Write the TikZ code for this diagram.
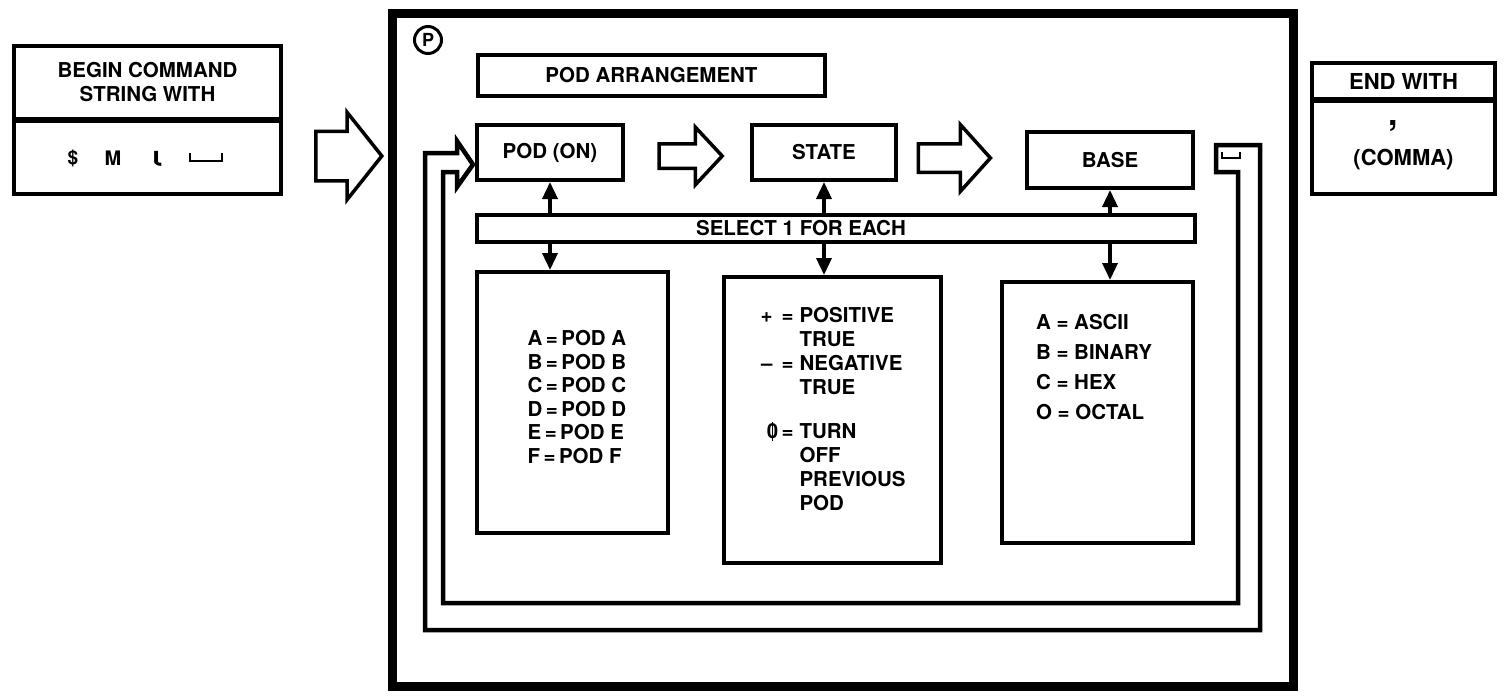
\documentclass[tikz,border=0pt]{standalone}
\usepackage{fontspec}
\setmainfont{TeX Gyre Heros}
\usetikzlibrary{arrows.meta,calc,positioning,shapes.arrows}

% slashed zero as printed in the state list
\newcommand{\zeroslash}{\ooalign{0\cr\hidewidth\rule[-0.12em]{0.09em}{0.95em}\hidewidth\cr}}

\begin{document}
\begin{tikzpicture}[x=1pt,y=-1pt,
    box/.style={draw,line width=4pt,inner sep=0pt,align=center,
      font=\fontsize{20.5}{24}\selectfont\bfseries},
    fatarrow/.style={single arrow,draw,line width=3.5pt,inner xsep=0pt,
      shape border rotate=0},
    pick/.style={line width=3.5pt,-{Triangle[width=15pt,length=17pt]}},
    loopline/.style={line width=4.5pt,line join=miter},
    spacemark/.style={line width=2.5pt}]
  \useasboundingbox (0,0) rectangle (1505,699);

  % left: how the string starts
  \node[box,minimum width=267,minimum height=73] (begintop) at (147.5,82.5)
    {BEGIN COMMAND\\STRING WITH};
  \node[box,minimum width=267,minimum height=73] (beginsym) at (147.5,157.5) {};
  \node[font=\fontsize{19}{20}\selectfont\bfseries] (dollar) at (73,158) {\$};
  \node[font=\fontsize{20}{20}\selectfont\bfseries] (emm) at (113,158) {M};
  \node[font=\fontsize{28}{28}\selectfont\bfseries] (iota) at (157,159) {ι};
  \draw[spacemark] (190,153) -- (190,161) -- (222,161) -- (222,153);

  \node[fatarrow,inner ysep=23,minimum height=66,minimum width=84,
    single arrow head extend=19,single arrow tip angle=103] (inarrow) at (339,156) {};

  % the P frame
  \node[draw,line width=9pt,minimum width=901,minimum height=673] (frame)
    at (842.5,349.5) {};
  \node[draw,circle,line width=3pt,inner sep=0pt,minimum size=27,
    font=\fontsize{18}{18}\selectfont\bfseries] (pmark) at (428,40) {P};

  \node[box,minimum width=347,minimum height=41] (podarr) at (651.5,75.5)
    {POD ARRANGEMENT};
  \node[box,minimum width=146,minimum height=55] (podon) at (550,152.5) {POD (ON)};
  \node[box,minimum width=144,minimum height=55] (state) at (824,152.5) {STATE};
  \node[box,minimum width=166,minimum height=56] (base) at (1110,160) {BASE};

  \node[fatarrow,inner ysep=10.5,minimum height=63,minimum width=54,
    single arrow head extend=16.5,single arrow tip angle=94] (arrowone) at (685,156) {};
  \node[fatarrow,inner ysep=12.5,minimum height=72,minimum width=63,
    single arrow head extend=19,single arrow tip angle=96] (arrowtwo) at (948,158) {};

  \node[box,minimum width=718,minimum height=27] (select) at (836,228) {};
  \node[font=\fontsize{20.5}{24}\selectfont\bfseries] (selecttext) at (801,228)
    {SELECT 1 FOR EACH};

  \node[box,minimum width=191,minimum height=261] (podlist) at (572.5,402.5) {};
  \node[align=left,font=\fontsize{20.5}{23.5}\selectfont\bfseries] (podtext)
    at (577,397) {A\,=\,POD A\\B\,=\,POD B\\C\,=\,POD C\\D\,=\,POD D\\E\,=\,POD E\\F\,=\,POD F};

  \node[box,minimum width=217,minimum height=286] (statelist) at (832.5,420) {};
  \node[font=\fontsize{20.5}{24}\selectfont\bfseries,inner sep=0pt] (statetext)
    at (833,412) {\begin{tabular}{@{}r@{\hspace{6pt}}l@{}}
      + \,= & POSITIVE\\
            & TRUE\\
      -- \,= & NEGATIVE\\
            & TRUE\\[20pt]
      \zeroslash\,= & TURN\\
            & OFF\\
            & PREVIOUS\\
            & POD
    \end{tabular}};

  \node[box,minimum width=191,minimum height=261] (baselist) at (1097.5,412.5) {};
  \node[align=left,font=\fontsize{20.5}{30}\selectfont\bfseries] (basetext)
    at (1094,367) {A = ASCII\\B = BINARY\\C = HEX\\O = OCTAL};

  % select bar to each box
  \draw[pick] (select.north -| podon) -- (podon.south);
  \draw[pick] (select.south -| podon) -- (podlist.north -| podon);
  \draw[pick] (select.north -| state) -- (state.south);
  \draw[pick] (select.south -| state) -- (statelist.north -| state);
  \draw[pick] (select.north -| base) -- (base.south);
  \draw[pick] (select.south -| base) -- (baselist.north -| base);

  % return loop back into POD (ON)
  \coordinate (looptip) at ($(podon.west)+(-2,12)$);
  \draw[loopline] (1216,172) -- (1216,145) -- (1260,145) -- (1260,630)
    -- (425,630) -- (425,153) -- (457,153) -- (457,141) -- (looptip)
    -- (457,187) -- (457,172) -- (443,172) -- (443,603) -- (1238,603)
    -- (1238,172) -- cycle;
  \draw[spacemark] (1222,152) -- (1222,158) -- (1240,158) -- (1240,152);

  % right: how the string ends
  \node[box,minimum width=183,minimum height=36] (endtop) at (1403.5,81)
    {\fontsize{22}{24}\selectfont END WITH};
  \node[box,minimum width=183,minimum height=93] (endbottom) at (1403.5,147.5) {};
  \node[font=\fontsize{22}{24}\selectfont\bfseries] (commatext) at (1403.5,160) {(COMMA)};
  \node[font=\fontsize{34}{34}\selectfont\bfseries] (commamark) at (1393,126) {,};
\end{tikzpicture}
\end{document}
